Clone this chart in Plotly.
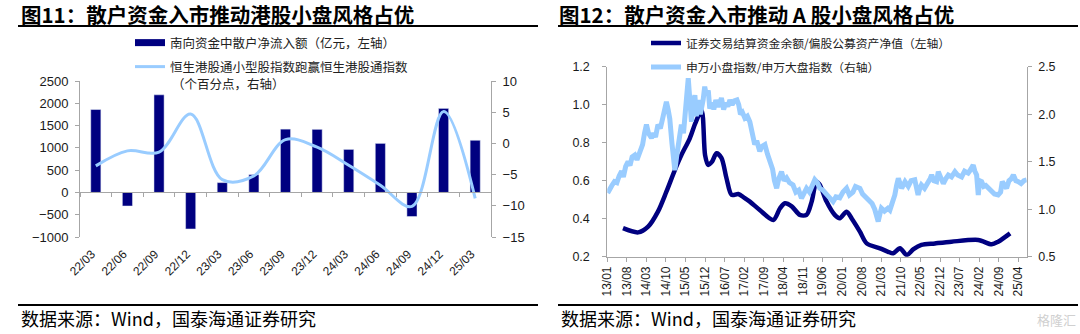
import plotly.graph_objects as go

# ---------------- data: left chart ----------------
quarters = ["22/03", "22/06", "22/09", "22/12", "23/03", "23/06", "23/09",
            "23/12", "24/03", "24/06", "24/09", "24/12", "25/03"]
retail_flow = [1860, -305, 2190, -820, 220, 400, 1420, 1415, 965, 1100, -540, 1885, 1170]
small_excess = [-3.6, -1.2, -1.4, 4.7, -5.8, -5.2, 0.6, -0.6, -3.5, -6.7, -10.1, 5.1, -8.8]

# ---------------- data: right chart ----------------
settle_dates = ["2013-06-21", "2013-12-03", "2014-03-21", "2014-07-06", "2014-10-06",
                "2015-01-06", "2015-03-18", "2015-06-18", "2015-08-15", "2015-10-24",
                "2015-12-01", "2016-01-03", "2016-02-15", "2016-04-03", "2016-05-27",
                "2016-07-21", "2016-09-15", "2016-11-27", "2017-02-01", "2017-04-01",
                "2017-07-18", "2017-12-12", "2018-02-24", "2018-04-18", "2018-07-01",
                "2018-09-27", "2018-12-09", "2019-02-03", "2019-03-27", "2019-05-01",
                "2019-07-15", "2019-10-12", "2019-12-06", "2020-02-18", "2020-04-15",
                "2020-07-12", "2020-09-24", "2021-02-15", "2021-05-15", "2021-07-09",
                "2021-09-21", "2021-12-03", "2022-02-15", "2022-05-12", "2022-10-06",
                "2023-04-06", "2024-01-21", "2024-06-15", "2024-08-24", "2025-01-01"]
settle_ratio = [0.35, 0.328, 0.358, 0.437, 0.542, 0.656, 0.735, 0.823, 0.90, 0.97,
                0.735, 0.683, 0.70, 0.744, 0.72, 0.613, 0.525, 0.53, 0.51, 0.49,
                0.446, 0.393, 0.455, 0.481, 0.465, 0.42, 0.42, 0.49, 0.595, 0.58,
                0.49, 0.42, 0.402, 0.437, 0.40, 0.332, 0.27, 0.244, 0.226, 0.218,
                0.244, 0.209, 0.24, 0.262, 0.27, 0.279, 0.288, 0.265, 0.279, 0.323]

sw_dates = ["2013-01-05", "2013-01-25", "2013-02-20", "2013-03-20", "2013-04-15", "2013-05-10",
            "2013-06-06", "2013-06-25", "2013-07-20", "2013-08-15", "2013-09-05", "2013-09-28",
            "2013-10-27", "2013-11-20", "2013-12-21", "2014-01-20", "2014-02-10", "2014-03-03",
            "2014-03-25", "2014-04-27", "2014-05-20", "2014-06-10", "2014-07-06", "2014-08-01",
            "2014-08-25", "2014-09-15", "2014-10-06", "2014-10-25", "2014-11-12", "2014-12-05",
            "2014-12-22", "2015-01-06", "2015-01-25", "2015-02-15", "2015-03-05", "2015-03-18",
            "2015-04-10", "2015-05-05", "2015-06-01", "2015-06-18", "2015-07-06", "2015-07-22",
            "2015-08-12", "2015-08-28", "2015-09-20", "2015-10-10", "2015-10-24", "2015-11-10",
            "2015-11-27", "2015-12-15", "2016-01-05", "2016-01-21", "2016-02-15", "2016-03-05",
            "2016-03-27", "2016-04-20", "2016-05-10", "2016-05-27", "2016-06-20", "2016-07-15",
            "2016-08-05", "2016-08-27", "2016-09-20", "2016-10-15", "2016-11-12", "2016-12-01",
            "2016-12-20", "2017-01-10", "2017-02-06", "2017-03-05", "2017-04-01", "2017-04-25",
            "2017-05-24", "2017-06-15", "2017-07-18", "2017-08-10", "2017-09-12", "2017-10-10",
            "2017-11-06", "2017-12-05", "2017-12-25", "2018-01-18", "2018-02-10", "2018-03-12",
            "2018-04-08", "2018-05-06", "2018-06-05", "2018-07-15", "2018-08-15", "2018-09-15",
            "2018-10-15", "2018-11-10", "2018-12-09", "2019-01-10", "2019-02-10", "2019-03-09",
            "2019-04-05", "2019-05-03", "2019-06-05", "2019-07-15", "2019-08-15", "2019-09-24",
            "2019-10-25", "2019-12-06", "2020-01-10", "2020-02-18", "2020-03-20", "2020-04-27",
            "2020-05-25", "2020-07-12", "2020-08-10", "2020-09-24", "2020-10-20", "2020-11-21",
            "2020-12-20", "2021-01-27", "2021-02-15", "2021-03-03", "2021-04-05", "2021-05-12",
            "2021-06-03", "2021-06-25", "2021-07-27", "2021-08-15", "2021-09-03", "2021-10-09",
            "2021-11-15", "2021-12-20", "2022-01-20", "2022-03-01", "2022-04-06", "2022-04-25",
            "2022-05-12", "2022-06-15", "2022-07-21", "2022-08-15", "2022-09-01", "2022-09-25",
            "2022-10-24", "2022-11-12", "2022-12-10", "2023-01-06", "2023-02-01", "2023-03-01",
            "2023-04-05", "2023-05-12", "2023-06-10", "2023-07-24", "2023-08-25", "2023-10-03",
            "2023-11-01", "2023-11-27", "2023-12-15", "2024-01-03", "2024-01-21", "2024-02-05",
            "2024-02-27", "2024-03-20", "2024-04-12", "2024-05-15", "2024-06-15", "2024-07-15",
            "2024-08-24", "2024-09-20", "2024-10-08", "2024-10-25", "2024-11-24", "2024-12-20",
            "2025-01-15", "2025-02-06", "2025-03-05", "2025-04-01", "2025-05-01", "2025-06-01",
            "2025-07-01"]
sw_ratio = [1.17, 1.22, 1.25, 1.29, 1.28, 1.35,
            1.40, 1.34, 1.45, 1.50, 1.46, 1.55,
            1.57, 1.52, 1.60, 1.68, 1.80, 1.89,
            1.80, 1.75, 1.80, 1.76, 1.89, 1.85,
            1.95, 2.02, 2.13, 2.05, 1.95, 1.70,
            1.50, 1.41, 1.55, 1.70, 1.78, 1.89,
            1.80, 2.05, 2.38, 2.15, 1.92, 2.10,
            2.20, 1.98, 2.15, 2.00, 2.05, 2.15,
            2.29, 2.20, 2.25, 2.06, 2.12, 2.05,
            2.15, 2.08, 2.12, 2.17, 2.05, 2.12,
            2.08, 2.15, 2.10, 2.14, 2.15, 2.10,
            2.00, 2.02, 1.96, 1.98, 1.92, 1.80,
            1.68, 1.72, 1.61, 1.66, 1.68, 1.58,
            1.50, 1.42, 1.30, 1.22, 1.32, 1.395,
            1.30, 1.33, 1.28, 1.255, 1.18, 1.20,
            1.115, 1.18, 1.22, 1.18, 1.26, 1.31,
            1.28, 1.22, 1.20, 1.15, 1.12, 1.08,
            1.13, 1.12, 1.18, 1.22, 1.15, 1.18,
            1.24, 1.22, 1.16, 1.115, 1.10, 1.06,
            1.00, 0.87, 0.95, 1.01, 0.98, 1.01,
            0.99, 1.05, 1.15, 1.25, 1.325, 1.22,
            1.29, 1.24, 1.30, 1.31, 1.15, 1.22,
            1.255, 1.22, 1.27, 1.32, 1.36, 1.30,
            1.29, 1.395, 1.33, 1.27, 1.32, 1.36,
            1.34, 1.395, 1.36, 1.34, 1.40, 1.38,
            1.42, 1.465, 1.40, 1.36, 1.15, 1.30,
            1.29, 1.24, 1.25, 1.22, 1.185, 1.16,
            1.15, 1.18, 1.29, 1.26, 1.22, 1.30,
            1.32, 1.36, 1.30, 1.29, 1.27, 1.30,
            1.31]

# ---------------- text ----------------
title_left = "<b>图11：散户资金入市推动港股小盘风格占优</b>"
title_right = "<b>图12：散户资金入市推动 A 股小盘风格占优</b>"
name_flow = "南向资金中散户净流入额（亿元，左轴）"
name_excess = "恒生港股通小型股指数跑赢恒生港股通指数"
name_excess_line2 = "（个百分点，右轴）"
name_settle = "证券交易结算资金余额/偏股公募资产净值（左轴）"
name_sw = "申万小盘指数/申万大盘指数（右轴）"
source_text = "数据来源：Wind，国泰海通证券研究"

# ---------------- style ----------------
W, H = 1080, 334
NAVY = "#000080"
LIGHT = "#99CCFF"
AX = "#A6A6A6"
TXT = "#1A1A1A"
CJK = "Noto Sans CJK SC"
NUM = "Liberation Sans"


def px(x):
    return x / W


def py(y):
    return 1 - y / H


L_X0, L_X1, L_Y0, L_Y1 = 80, 491, 81, 237
R_X0, R_X1, R_Y0, R_Y1 = 607.3, 1026.7, 66.7, 256.7

ymin_l, ymax_l = -1000, 2500
zero_frac = py(L_Y1) + (0 - ymin_l) / (ymax_l - ymin_l) * (py(L_Y0) - py(L_Y1))

fig = go.Figure()

# left chart
fig.add_trace(go.Bar(x=quarters, y=retail_flow, marker_color=NAVY, width=0.32,
                     xaxis="x", yaxis="y", showlegend=False, name=name_flow))
fig.add_trace(go.Scatter(x=[None], y=[None], mode="lines", line=dict(color=NAVY, width=7),
                         xaxis="x", yaxis="y", name=name_flow, legend="legend"))
fig.add_trace(go.Scatter(x=quarters, y=small_excess, mode="lines",
                         line=dict(color=LIGHT, width=3, shape="spline", smoothing=1.0),
                         xaxis="x", yaxis="y2", name=name_excess, legend="legend2"))

# right chart
fig.add_trace(go.Scatter(x=settle_dates, y=settle_ratio, mode="lines",
                         line=dict(color=NAVY, width=4.5, shape="spline", smoothing=0.8),
                         xaxis="x2", yaxis="y3", name=name_settle, legend="legend3"))
fig.add_trace(go.Scatter(x=sw_dates, y=sw_ratio, mode="lines",
                         line=dict(color=LIGHT, width=5),
                         xaxis="x2", yaxis="y4", name=name_sw, legend="legend4"))

tickfont_l = dict(family=NUM, size=13, color=TXT)
tickfont_r = dict(family=NUM, size=12.5, color=TXT)

common_axis = dict(showline=True, linecolor=AX, linewidth=1, ticks="outside",
                   tickcolor=AX, ticklen=4, showgrid=False, zeroline=False, automargin=False)

legfont_l = dict(family=CJK, size=12.5, color="#222222")
legfont_r = dict(family=CJK, size=11.8, color="#222222")


def leg(x, y, font):
    return dict(x=x, y=y, xanchor="left", yanchor="middle", bgcolor="rgba(0,0,0,0)",
                borderwidth=0, font=font, itemwidth=30,
                tracegroupgap=0, itemclick=False, itemdoubleclick=False)


fig.update_layout(
    width=W, height=H,
    margin=dict(l=0, r=0, t=0, b=0, pad=0, autoexpand=False),
    paper_bgcolor="white", plot_bgcolor="white",
    showlegend=True,
    xaxis=dict(domain=[px(L_X0), px(L_X1)], anchor="free", position=zero_frac,
               type="category", range=[-0.5, 12.5], tickson="boundaries",
               tickangle=-45, ticklabelstandoff=49, ticklabelshift=-4,
               tickfont=dict(family=NUM, size=12, color=TXT), **common_axis),
    yaxis=dict(domain=[py(L_Y1), py(L_Y0)], anchor="x", range=[ymin_l, ymax_l], dtick=500,
               tickfont=tickfont_l, ticklabelstandoff=4, **common_axis),
    yaxis2=dict(overlaying="y", side="right", anchor="x", range=[-15, 10], dtick=5,
                tickfont=tickfont_l, ticklabelstandoff=4, **common_axis),
    xaxis2=dict(domain=[px(R_X0), px(R_X1)], anchor="y3", type="date",
                range=["2013-01-01", "2025-07-01"], tick0="2013-01-01", dtick="M7",
                tickformat="%y/%m", tickangle=-90, tickfont=dict(family=NUM, size=12, color=TXT),
                **common_axis),
    yaxis3=dict(domain=[py(R_Y1), py(R_Y0)], anchor="x2", range=[0.2, 1.2], dtick=0.2,
                tickformat=".1f", tickfont=tickfont_r, ticklabelstandoff=10, **common_axis),
    yaxis4=dict(overlaying="y3", side="right", anchor="x2", range=[0.5, 2.5], dtick=0.5,
                tickformat=".1f", tickfont=tickfont_r, ticklabelstandoff=4, **common_axis),
    legend=leg(px(130), py(43), legfont_l),
    legend2=leg(px(130), py(67), legfont_l),
    legend3=leg(px(646), py(43), legfont_r),
    legend4=leg(px(646), py(67), legfont_r),
)

annotations = [
    dict(text=title_left, x=px(19), y=py(14), xref="paper", yref="paper", xanchor="left",
         yanchor="middle", showarrow=False, font=dict(family=CJK, size=20.5, color="#000000")),
    dict(text=title_right, x=px(557), y=py(14), xref="paper", yref="paper", xanchor="left",
         yanchor="middle", showarrow=False, font=dict(family=CJK, size=20.5, color="#000000")),
    dict(text=name_excess_line2, x=px(170), y=py(83), xref="paper", yref="paper",
         xanchor="left", yanchor="middle", showarrow=False, font=legfont_l),
    dict(text=source_text, x=px(19), y=py(318), xref="paper", yref="paper", xanchor="left",
         yanchor="middle", showarrow=False, font=dict(family=CJK, size=18, color="#000000")),
    dict(text=source_text, x=px(559), y=py(318), xref="paper", yref="paper", xanchor="left",
         yanchor="middle", showarrow=False, font=dict(family=CJK, size=18, color="#000000")),
    dict(text="格隆汇", x=px(1078), y=py(319), xref="paper", yref="paper", xanchor="right",
         yanchor="middle", showarrow=False, font=dict(family=CJK, size=13, color="#D0D0D0")),
]
fig.update_layout(annotations=annotations)

shapes = []
for x0, x1 in [(18, 538), (558, 1078)]:
    shapes.append(dict(type="line", xref="paper", yref="paper", x0=px(x0), x1=px(x1),
                       y0=py(26), y1=py(26), line=dict(color="#000000", width=2)))
    shapes.append(dict(type="line", xref="paper", yref="paper", x0=px(x0), x1=px(x1),
                       y0=py(305), y1=py(305), line=dict(color="#000000", width=2)))
fig.update_layout(shapes=shapes)

fig.write_html("out.html")
